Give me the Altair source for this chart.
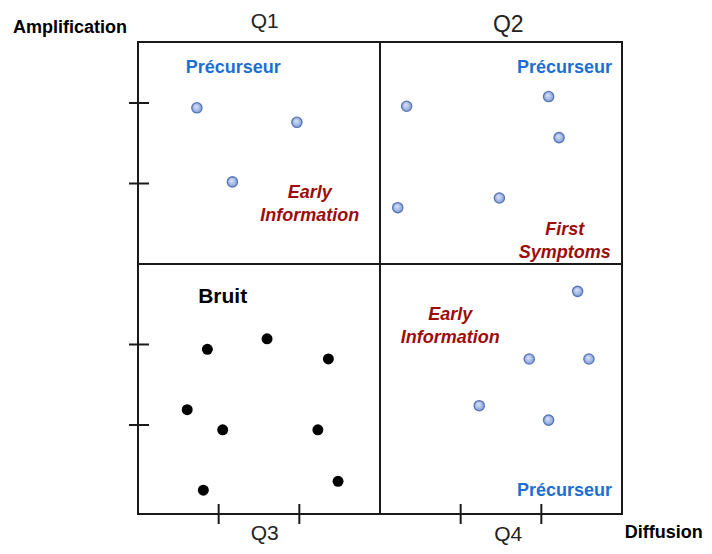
import altair as alt
import pandas as pd

# Blue "Précurseur" points (Q1, Q2, Q4)
blue_x = [0.73, 1.97, 1.17, 3.33, 5.09, 5.22, 3.22, 4.48, 5.45, 4.85, 5.59, 4.23, 5.09]
blue_y = [4.94, 4.76, 4.02, 4.96, 5.08, 4.57, 3.70, 3.82, 2.66, 1.82, 1.82, 1.24, 1.06]
# Black "Bruit" points (Q3)
black_x = [0.86, 1.60, 2.36, 0.61, 1.05, 2.23, 2.48, 0.81]
black_y = [1.94, 2.07, 1.82, 1.19, 0.94, 0.94, 0.30, 0.19]

# axis ticks
tick_vals = [1, 2, 4, 5]
x_min, x_max, x_mid = 0, 6, 3
y_min, y_max, y_mid = -0.106, 5.758, 3

# label texts
blue_text = ["Précurseur", "Précurseur", "Précurseur"]
blue_tx = [1.18, 5.876, 5.876]
blue_ty = [5.43, 5.43, 0.18]
blue_align = ["center", "right", "right"]

red_text = ["Early\nInformation", "First\nSymptoms", "Early\nInformation"]
red_tx = [2.13, 5.29, 3.87]
red_ty = [3.88, 3.42, 2.365]

q_text = ["Q1", "Q2", "Q3", "Q4"]
q_tx = [1.57, 4.59, 1.57, 4.59]
q_ty = [5.932, 5.882, -0.429, -0.441]
q_size = [21, 23, 21, 21]

amp_text, amp_x, amp_y = "Amplification", -0.843, 5.93
diff_text, diff_x, diff_y = "Diffusion", 7.0, -0.342

xs = alt.Scale(domain=[x_min, x_max], nice=False, zero=False)
ys = alt.Scale(domain=[y_min, y_max], nice=False, zero=False)
FONT = "Liberation Sans"

pts_blue = pd.DataFrame({"x": blue_x, "y": blue_y})
pts_black = pd.DataFrame({"x": black_x, "y": black_y})
ticks = pd.DataFrame({"v": tick_vals})
box = pd.DataFrame({"x0": [x_min], "x1": [x_max], "y0": [y_min], "y1": [y_max]})
mid = pd.DataFrame({"xm": [x_mid], "ym": [y_mid]})
lab_blue = pd.DataFrame({"t": blue_text, "x": blue_tx, "y": blue_ty, "a": blue_align})
lab_red = pd.DataFrame({"t": red_text, "x": red_tx, "y": red_ty})
lab_q = pd.DataFrame({"t": q_text, "x": q_tx, "y": q_ty, "s": q_size})

X = lambda f: alt.X(f, type="quantitative", scale=xs, axis=None)
Y = lambda f: alt.Y(f, type="quantitative", scale=ys, axis=None)

border = alt.Chart(box).mark_rect(fill="transparent", stroke="#1a1a1a", strokeWidth=2).encode(
    x=X("x0"), x2="x1", y=Y("y0"), y2="y1")
vline = alt.Chart(mid).mark_rule(color="#1a1a1a", strokeWidth=2).encode(
    x=X("xm"), y=alt.value(0), y2=alt.value(472))
hline = alt.Chart(mid).mark_rule(color="#1a1a1a", strokeWidth=2).encode(
    y=Y("ym"), x=alt.value(0), x2=alt.value(484))
lticks = alt.Chart(ticks).mark_rule(color="#1a1a1a", strokeWidth=2).encode(
    y=Y("v"), x=alt.value(-9), x2=alt.value(11))
bticks = alt.Chart(ticks).mark_rule(color="#1a1a1a", strokeWidth=2).encode(
    x=X("v"), y=alt.value(462), y2=alt.value(482))

grad = {
    "gradient": "radial",
    "x1": 0.4, "y1": 0.35, "r1": 0.0,
    "x2": 0.5, "y2": 0.5, "r2": 0.55,
    "stops": [{"offset": 0, "color": "#dfe7f8"}, {"offset": 1, "color": "#7c98d6"}],
}
blue = alt.Chart(pts_blue).mark_point(filled=True, fill=grad, stroke="#5876b8", strokeWidth=1.3,
                                      size=105, opacity=1).encode(x=X("x"), y=Y("y"))
black = alt.Chart(pts_black).mark_point(filled=True, color="#000000", size=120,
                                        opacity=1).encode(x=X("x"), y=Y("y"))

t_blue_base = alt.Chart(lab_blue)
t_blue_c = t_blue_base.mark_text(font=FONT, fontSize=18, fontWeight="bold", color="#1c6fd1",
                                 baseline="middle", align="center").encode(
    x=X("x"), y=Y("y"), text="t:N").transform_filter("datum.a == 'center'")
t_blue_r = t_blue_base.mark_text(font=FONT, fontSize=18, fontWeight="bold", color="#1c6fd1",
                                 baseline="middle", align="right").encode(
    x=X("x"), y=Y("y"), text="t:N").transform_filter("datum.a == 'right'")
t_red = alt.Chart(lab_red).mark_text(font=FONT, fontSize=18, fontWeight="bold", fontStyle="italic",
                                     color="#9e0b0b", baseline="middle", align="center",
                                     lineBreak="\n", lineHeight=22.5).encode(
    x=X("x"), y=Y("y"), text="t:N")
t_bruit = alt.Chart(pd.DataFrame({"t": ["Bruit"], "x": [1.05], "y": [2.59]})).mark_text(
    font=FONT, fontSize=21, fontWeight="bold", color="#000000", baseline="middle", align="center").encode(
    x=X("x"), y=Y("y"), text="t:N")
t_q = alt.Chart(lab_q).mark_text(font=FONT, color="#222222", baseline="alphabetic",
                                 align="center").encode(
    x=X("x"), y=Y("y"), text="t:N", size=alt.Size("s:Q", scale=None, legend=None))
t_amp = alt.Chart(pd.DataFrame({"t": [amp_text], "x": [amp_x], "y": [amp_y]})).mark_text(
    font=FONT, fontSize=18, fontWeight="bold", color="#000000", baseline="middle", align="center").encode(
    x=X("x"), y=Y("y"), text="t:N")
t_diff = alt.Chart(pd.DataFrame({"t": [diff_text], "x": [diff_x], "y": [diff_y]})).mark_text(
    font=FONT, fontSize=18, fontWeight="bold", color="#000000", baseline="middle", align="right").encode(
    x=X("x"), y=Y("y"), text="t:N")

chart = alt.layer(border, vline, hline, lticks, bticks, blue, black,
                  t_blue_c, t_blue_r, t_red, t_bruit, t_q, t_amp, t_diff).properties(
    width=484, height=472,
    autosize=alt.AutoSizeParams(type="none"),
    padding={"left": 130, "top": 34, "right": 82, "bottom": 32},
).configure_view(stroke=None)

chart.save("out.html", embed_options={"renderer": "svg", "actions": False})
